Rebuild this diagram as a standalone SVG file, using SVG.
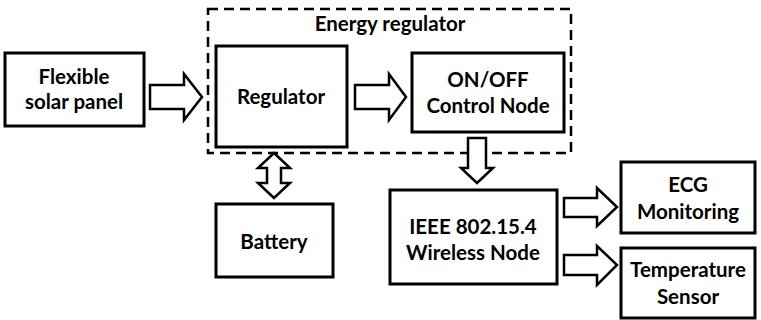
<svg xmlns="http://www.w3.org/2000/svg" width="761" height="320" viewBox="0 0 761 320">
<style>
.box{fill:#fff;stroke:#000;stroke-width:3}
.arr{fill:#fff;stroke:#000;stroke-width:2.5;stroke-linejoin:miter}
.dash{fill:none;stroke:#000;stroke-width:2.5;stroke-dasharray:10 6}
text{font-family:Lato,"Liberation Sans",sans-serif;font-weight:bold;font-size:20.5px;text-anchor:middle;fill:#000}
</style>
<rect x="0" y="0" width="761" height="320" fill="#fff"/>
<g id="energy-regulator">
<rect class="dash" x="208" y="9" width="363" height="144"/>
<text x="390" y="31">Energy regulator</text>
</g>
<g id="solar">
<rect class="box" x="5" y="53" width="139" height="73"/>
<text x="74" y="84">Flexible</text>
<text x="74" y="109">solar panel</text>
</g>
<g id="regulator">
<rect class="box" x="216" y="46" width="131" height="101"/>
<text x="281" y="104">Regulator</text>
</g>
<g id="control">
<rect class="box" x="412" y="53" width="152" height="79"/>
<text x="488" y="87">ON/OFF</text>
<text x="488" y="113">Control Node</text>
</g>
<g id="battery">
<rect class="box" x="216" y="204" width="117" height="73"/>
<text x="274" y="249">Battery</text>
</g>
<g id="wireless">
<rect class="box" x="390" y="190" width="167" height="94"/>
<text x="473" y="234">IEEE 802.15.4</text>
<text x="473" y="260">Wireless Node</text>
</g>
<g id="ecg">
<rect class="box" x="621" y="162" width="134" height="71"/>
<text x="688" y="192">ECG</text>
<text x="688" y="219">Monitoring</text>
</g>
<g id="temperature">
<rect class="box" x="621" y="248" width="134" height="70"/>
<text x="688" y="277">Temperature</text>
<text x="688" y="304">Sensor</text>
</g>
<g id="connectors">
<path class="arr" d="M150,85 H184 V74 L202,97 L184,120 V109 H150 Z"/>
<path class="arr" d="M355,85 H389 V74 L406,97 L389,120 V109 H355 Z"/>
<path class="arr" d="M468,138 H486 V168 H493 L477,183 L461,168 H468 Z"/>
<path class="arr" d="M564,198 H597 V188 L617,207 L597,226 V217 H564 Z"/>
<path class="arr" d="M564,255 H597 V246 L617,265 L597,285 V275 H564 Z"/>
<path class="arr" d="M274,153 L290,168 H281 V183 H290 L274,198 L258,183 H267 V168 H258 Z"/>
</g>
</svg>
